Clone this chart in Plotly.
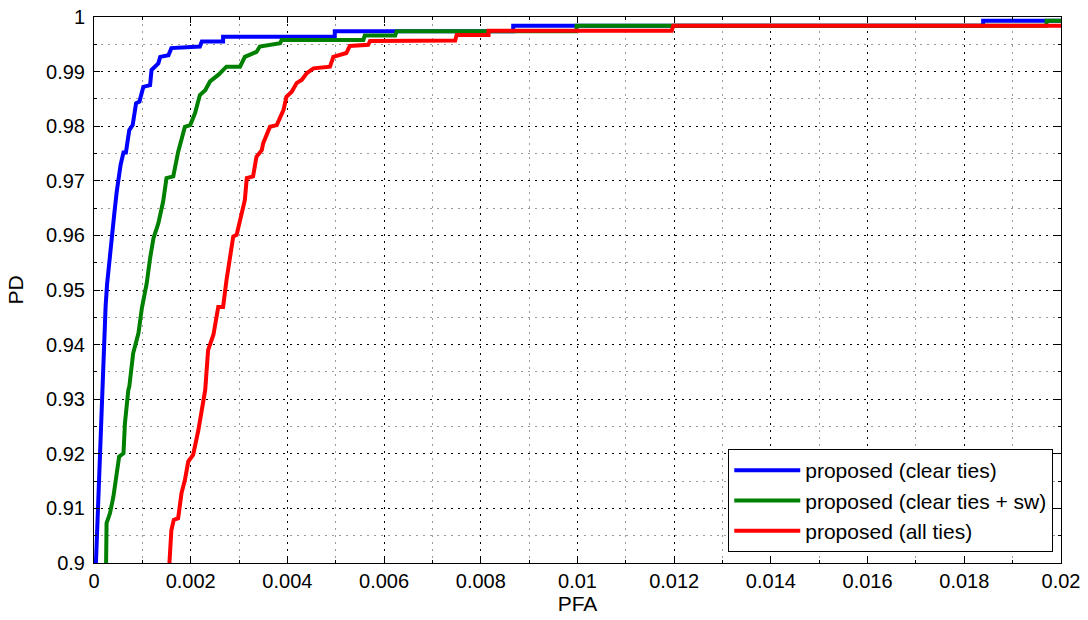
import plotly.graph_objects as go

# ROC curves: probability of false alarm (PFA) vs probability of detection (PD)
pfa_clear = [0.00004, 0.00008, 0.00012, 0.00015, 0.00017, 0.00020, 0.00024, 0.00027,
             0.00031, 0.00037, 0.00042, 0.00047, 0.00050, 0.00055, 0.00061, 0.00066,
             0.00073, 0.00080, 0.00087, 0.00094, 0.00102, 0.00116, 0.00119, 0.00133,
             0.00137, 0.00154, 0.00160, 0.00219, 0.00223, 0.00267, 0.00267, 0.00498,
             0.00498, 0.00867, 0.00867, 0.01839, 0.01839, 0.02]
pd_clear = [0.900, 0.910, 0.918, 0.925, 0.933, 0.941, 0.947, 0.951,
            0.955, 0.960, 0.964, 0.968, 0.970, 0.9729, 0.9752, 0.9752,
            0.9793, 0.9802, 0.9842, 0.9845, 0.9872, 0.9875, 0.9903, 0.9915,
            0.9927, 0.9930, 0.9943, 0.9946, 0.9955, 0.9955, 0.9964, 0.9964,
            0.9974, 0.9974, 0.9984, 0.9984, 0.9993, 0.9993]

pfa_clear_sw = [0.00025, 0.00026, 0.00033, 0.00040, 0.00047, 0.00052, 0.00061, 0.00064,
                0.00071, 0.00073, 0.00081, 0.00092, 0.00099, 0.00109, 0.00116, 0.00123,
                0.00133, 0.00143, 0.00150, 0.00164, 0.00174, 0.00188, 0.00199, 0.00209,
                0.00219, 0.00230, 0.00240, 0.00257, 0.00274, 0.00302, 0.00312, 0.00336,
                0.00343, 0.00385, 0.00388, 0.00557, 0.00560, 0.00623, 0.00626, 0.00998,
                0.00998, 0.0197, 0.0197, 0.02]
pd_clear_sw = [0.900, 0.9073, 0.9091, 0.9121, 0.9164, 0.9195, 0.9201, 0.9256,
               0.9317, 0.9323, 0.9384, 0.9421, 0.9467, 0.9512, 0.9558, 0.9595,
               0.9622, 0.9662, 0.9705, 0.9708, 0.9753, 0.9799, 0.9802, 0.9824,
               0.9857, 0.9866, 0.9882, 0.9894, 0.9909, 0.9909, 0.9927, 0.9936,
               0.9946, 0.9952, 0.9958, 0.9958, 0.9966, 0.9966, 0.9974, 0.9974,
               0.9984, 0.9984, 0.9993, 0.9993]

pfa_all = [0.00156, 0.00160, 0.00165, 0.00174, 0.00181, 0.00188, 0.00195, 0.00205,
           0.00216, 0.00222, 0.00230, 0.00236, 0.00247, 0.00257, 0.00267, 0.00274,
           0.00281, 0.00288, 0.00295, 0.00302, 0.00312, 0.00316, 0.00329, 0.00336,
           0.00347, 0.00350, 0.00364, 0.00378, 0.00385, 0.00392, 0.00398, 0.00409,
           0.00419, 0.00430, 0.00440, 0.00454, 0.00488, 0.00495, 0.00522, 0.00529,
           0.00567, 0.00571, 0.00747, 0.00750, 0.00816, 0.00816, 0.01195, 0.01198, 0.02]
pd_all = [0.9000, 0.9060, 0.9079, 0.9082, 0.9128, 0.9152, 0.9186, 0.9198,
          0.9244, 0.9280, 0.9317, 0.9390, 0.9418, 0.9469, 0.9469, 0.9518,
          0.9558, 0.9598, 0.9601, 0.9628, 0.9665, 0.9705, 0.9708, 0.9744,
          0.9756, 0.9769, 0.9799, 0.9802, 0.9817, 0.9830, 0.9854, 0.9863,
          0.9879, 0.9885, 0.9897, 0.9906, 0.9909, 0.9927, 0.9934, 0.9947,
          0.9949, 0.9956, 0.9957, 0.9967, 0.9967, 0.9975, 0.9975, 0.9984, 0.9984]

series_names = ["proposed (clear ties)", "proposed (clear ties + sw)", "proposed (all ties)"]
series_colors = ["#0000FF", "#008000", "#FF0000"]

x_ticks = [0, 0.002, 0.004, 0.006, 0.008, 0.01, 0.012, 0.014, 0.016, 0.018, 0.02]
x_tick_labels = ["0", "0.002", "0.004", "0.006", "0.008", "0.01", "0.012", "0.014",
                 "0.016", "0.018", "0.02"]
y_ticks = [0.9, 0.91, 0.92, 0.93, 0.94, 0.95, 0.96, 0.97, 0.98, 0.99, 1.0]
y_tick_labels = ["0.9", "0.91", "0.92", "0.93", "0.94", "0.95", "0.96", "0.97",
                 "0.98", "0.99", "1"]

fig = go.Figure()
for xs, ys, name, color in zip([pfa_clear, pfa_clear_sw, pfa_all],
                               [pd_clear, pd_clear_sw, pd_all],
                               series_names, series_colors):
    fig.add_trace(go.Scatter(x=xs, y=ys, mode="lines", name=name,
                             line=dict(color=color, width=4)))

font_family = "Liberation Sans, Arial, sans-serif"
axis_common = dict(
    showline=True, linecolor="black", linewidth=1, mirror="ticks",
    ticks="inside", ticklen=6, tickcolor="black",
    showgrid=True, gridcolor="black", gridwidth=1, griddash="2px,5px",
    zeroline=False, automargin=False,
    tickfont=dict(family=font_family, size=20, color="black"),
)

fig.update_xaxes(
    range=[0, 0.02], tickvals=x_ticks, ticktext=x_tick_labels,
    minor=dict(dtick=0.001, tick0=0, showgrid=True, gridcolor="#9a9a9a",
               griddash="2px,5px", ticks="inside", ticklen=3, tickcolor="black"),
    title=dict(text="PFA", font=dict(family=font_family, size=21, color="black"),
               standoff=2),
    **axis_common,
)
fig.update_yaxes(
    range=[0.9, 1.0], tickvals=y_ticks, ticktext=y_tick_labels,
    ticklabelstandoff=4,
    minor=dict(dtick=0.005, tick0=0.9, showgrid=True, gridcolor="#9a9a9a",
               griddash="2px,5px", ticks="inside", ticklen=3, tickcolor="black"),
    title=dict(text="PD", font=dict(family=font_family, size=21, color="black"),
               standoff=16),
    **axis_common,
)

fig.update_layout(
    width=1088, height=620,
    margin=dict(l=94, r=27, t=17, b=57),
    paper_bgcolor="white", plot_bgcolor="white",
    font=dict(family=font_family, size=20, color="black"),
    legend=dict(
        x=0.992, y=0.02, xanchor="right", yanchor="bottom",
        bgcolor="white", bordercolor="black", borderwidth=1,
        font=dict(family=font_family, size=21, color="black"),
        itemwidth=66, tracegroupgap=0,
    ),
    showlegend=True,
)

fig.write_html("out.html")
